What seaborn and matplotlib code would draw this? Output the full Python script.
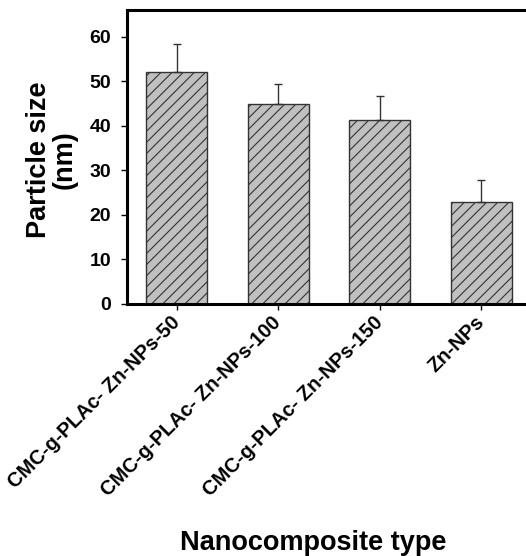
import matplotlib
matplotlib.use("Agg")
import matplotlib.pyplot as plt
import seaborn as sns
import pandas as pd
import numpy as np

categories = ["CMC-g-PLAc- Zn-NPs-50", "CMC-g-PLAc- Zn-NPs-100",
              "CMC-g-PLAc- Zn-NPs-150", "Zn-NPs"]
sizes = [52.0, 44.9, 41.3, 22.9]
errors = [6.3, 4.4, 5.5, 4.9]
yticks = [0, 10, 20, 30, 40, 50, 60]

sns.set_theme(style="white")
plt.rcParams['font.family'] = ['Liberation Sans', 'DejaVu Sans']
plt.rcParams['hatch.linewidth'] = 0.8
plt.rcParams['hatch.color'] = '#3a3a3a'
for k in ['text.color', 'axes.labelcolor', 'xtick.color', 'ytick.color']:
    plt.rcParams[k] = 'black'

df = pd.DataFrame({"type": categories, "size": sizes})

fig = plt.figure(figsize=(5.26, 5.56), dpi=100)
ax = fig.add_axes([127/526, 1-304/556, (531-127)/526, (304-10)/556])

sns.barplot(data=df, x="type", y="size", order=categories, color="#c0c0c0",
            saturation=1, width=0.6, errorbar=None, edgecolor="#333333",
            linewidth=1.0, hatch="///", ax=ax)

x = np.arange(len(categories))
ax.errorbar(x, sizes, yerr=[np.zeros(len(errors)), errors], fmt="none",
            ecolor="#333333", elinewidth=1.0, capsize=2.6, capthick=1.0, zorder=1)

ax.set_xlim(-0.49, 3.49)
ax.set_ylim(0, 66)
ax.set_yticks(yticks)
ax.set_yticklabels([str(t) for t in yticks], fontsize=14, fontweight="bold")
ax.set_xticks(x)
ax.set_xticklabels(categories, rotation=45, ha="right", va="center",
                   rotation_mode="anchor", fontsize=14.5, fontweight="bold")
ax.tick_params(axis="both", direction="out", length=4, width=1, color="black",
               labelcolor="black", left=True, bottom=True)
ax.tick_params(axis="y", pad=7.5)
ax.tick_params(axis="x", pad=7)
for s in ax.spines.values():
    s.set_color("black")
    s.set_linewidth(2.2)

ax.set_xlabel("Nanocomposite type", fontsize=19.5, fontweight="bold", color="black")
ax.xaxis.set_label_coords((313-127)/(531-127), -(530-304)/294)
ax.set_ylabel("Particle size\n(nm)", fontsize=19.5, fontweight="bold",
              linespacing=1.0, color="black")
ax.yaxis.set_label_coords(-(127-78)/(531-127), (304-160)/294)

fig.savefig("out.png", dpi=100)
